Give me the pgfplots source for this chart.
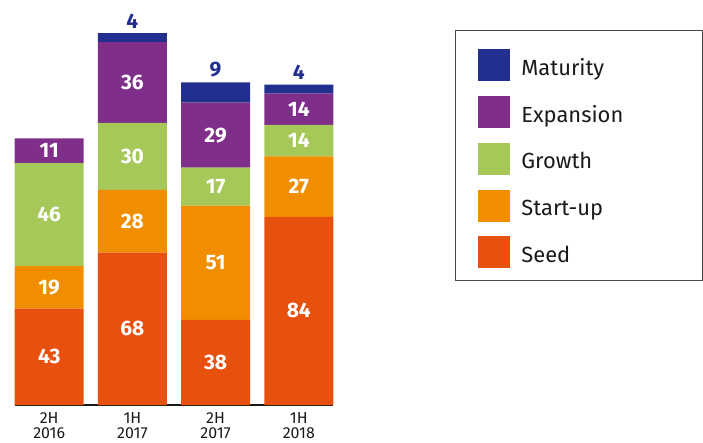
\documentclass[border=0pt]{standalone}
\usepackage{fontspec}
\setmainfont{Fira Sans}
\usepackage{pgfplots}
\usepackage{pgfplotstable}
\pgfplotsset{compat=1.18}
\definecolor{cseed}{HTML}{E8500E}
\definecolor{cstart}{HTML}{F18E00}
\definecolor{cgrowth}{HTML}{A5C858}
\definecolor{cexp}{HTML}{7F2F8A}
\definecolor{cmat}{HTML}{232F8E}
\definecolor{ctxt}{HTML}{1A1A1A}
\pgfplotstableread{
x seed start growth exp mat matlab
0 43 19 46 11 0 {}
1 68 28 30 36 4 4
2 38 51 17 29 9 9
3 84 27 14 14 4 4
}\data
\pgfplotsset{
  inlab/.style={
    nodes near coords,
    point meta=explicit symbolic,
    every node near coord/.append style={anchor=center, text=white,
      font=\bfseries\fontsize{21}{24}\selectfont},
  }
}
\newcommand{\lent}[1]{\makebox[165bp][l]{\hspace*{9bp}\raisebox{-6bp}[\height][\depth]{\rule[-6bp]{0pt}{21bp}#1}}}
\begin{document}
\begin{tikzpicture}
\useasboundingbox (0,0) rectangle (703bp,443bp);
\begin{axis}[
  at={(15bp,38bp)}, anchor=south west,
  scale only axis, width=318bp, height=380.8bp,
  ybar stacked, bar width=69bp,
  xmin=-0.411, xmax=3.411, ymin=0, ymax=170,
  axis x line*=bottom, axis y line=none,
  x axis line style={line width=1.6bp, color=ctxt},
  xtick={0,1,2,3},
  xticklabels={{2H\\2016},{1H\\2017},{2H\\2017},{1H\\2018}},
  xticklabel style={align=center, font=\fontsize{16}{15}\selectfont, text=ctxt, yshift=-4bp},
  major tick length=0pt,
  clip=false,
  reverse legend,
  legend cell align=left,
  legend image code/.code={\path[draw=none,fill=none] (0bp,-22bp) rectangle (32bp,22bp);\fill[#1] (0bp,-19.5bp) rectangle (32bp,12.5bp);},
  legend style={at={(1.3836,0.9848)}, anchor=north west,
    draw=ctxt!80, line width=0.8bp,
    font=\fontsize{22}{24}\selectfont, text=ctxt,
    inner xsep=23bp, inner ysep=9.5bp, row sep=2.75bp},
]
\addplot[fill=cseed, draw=none, inlab] table[x=x, y=seed, meta=seed] {\data};
\addlegendentry{\lent{Seed}}
\addplot[fill=cstart, draw=none, inlab] table[x=x, y=start, meta=start] {\data};
\addlegendentry{\lent{Start-up}}
\addplot[fill=cgrowth, draw=none, inlab] table[x=x, y=growth, meta=growth] {\data};
\addlegendentry{\lent{Growth}}
\addplot[fill=cexp, draw=none, inlab] table[x=x, y=exp, meta=exp] {\data};
\addlegendentry{\lent{Expansion}}
\addplot[fill=cmat, draw=none, nodes near coords, point meta=explicit symbolic,
  visualization depends on={\thisrow{mat} \as \rawy},
  every node near coord/.append style={anchor=south, text=cmat, yshift=1.5bp,
    shift={(axis direction cs:0,\rawy/2)},
    font=\bfseries\fontsize{21}{24}\selectfont}]
  table[x=x, y=mat, meta=matlab] {\data};
\addlegendentry{\lent{Maturity}}
\end{axis}
\end{tikzpicture}
\end{document}
